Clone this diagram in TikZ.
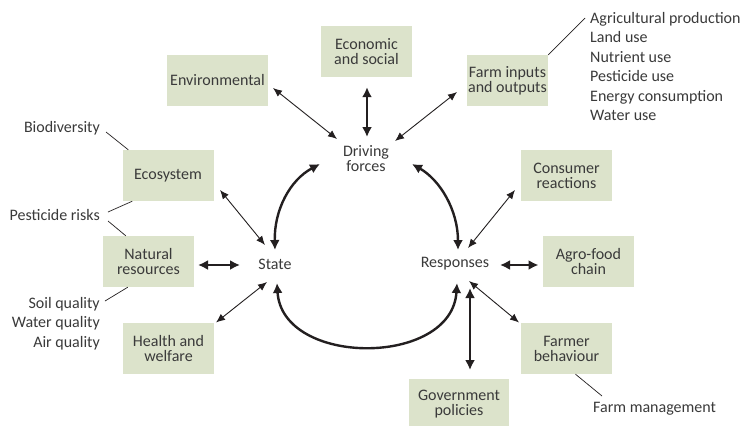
\documentclass[tikz,border=0pt]{standalone}
\usepackage{fontspec}
\setmainfont{Carlito}
\usetikzlibrary{arrows.meta,calc}
\definecolor{boxgreen}{HTML}{DCE3CB}
\definecolor{txt}{HTML}{3A3A3A}
\definecolor{arr}{HTML}{231F20}
\begin{document}
\begin{tikzpicture}[x=1pt,y=-1pt,
  every node/.style={text=txt},
  box/.style={fill=boxgreen, minimum width=91pt, minimum height=51pt, inner sep=0pt, align=center, font=\fontsize{16}{15}\selectfont},
  lbl/.style={inner sep=0pt, align=center, font=\fontsize{16}{15}\selectfont},
  lst/.style={inner sep=0pt, font=\fontsize{16}{19.5}\selectfont},
  thinarr/.style={draw=arr, line width=0.9pt, {Latex[length=9pt,width=7.5pt]}-{Latex[length=9pt,width=7.5pt]}},
  thickarr/.style={draw=arr, line width=2.4pt, {Latex[length=10pt,width=10pt]}-{Latex[length=10pt,width=10pt]}},
  note/.style={draw=arr, line width=0.7pt}]
\fill[white] (0,0) rectangle (753,426);
\useasboundingbox (0,0) rectangle (753,426);

% boxes
\node[box, minimum width=101pt] (env) at (217.5,80.5) {Environmental};
\node[box] (eco) at (366.5,51.5) {Economic\\and social};
\node[box, minimum width=81pt] (farm) at (507.5,80.5) {Farm inputs\\and outputs};
\node[box] (ecosys) at (168,175.5) {Ecosystem};
\node[box] (nat) at (148.5,261.5) {Natural\\resources};
\node[box] (hw) at (168.5,348.5) {Health and\\welfare};
\node[box] (cons) at (566.5,175.5) {Consumer\\reactions};
\node[box] (agro) at (588.5,261.5) {Agro-food\\chain};
\node[box] (farmer) at (566.5,348.5) {Farmer\\behaviour};
\node[box, minimum width=100pt] (gov) at (459,404) {Government\\policies};

% central labels
\node[lbl] (drv) at (366,159) {Driving\\forces};
\node[lbl] (state) at (275,264) {State};
\node[lbl] (resp) at (455,264) {Responses};

% annotations
\node[lst, anchor=east] (bio) at (100,128) {Biodiversity};
\node[lst, anchor=east] (pest) at (100,215) {Pesticide risks};
\node[lst, anchor=north east, align=right] (soil) at (100,297) {Soil quality\\Water quality\\Air quality};
\node[lst, anchor=north west, align=left] (agri) at (590,12) {Agricultural production\\Land use\\Nutrient use\\Pesticide use\\Energy consumption\\Water use};
\node[lst, anchor=west] (fm) at (593,409) {Farm management};

\draw[note] ($(bio.east)+(6,4)$) -- ($(ecosys.north west)+(6,0)$);
\draw[note] ($(pest.east)+(8,-3)$) -- ($(ecosys.south west)+(10,0)$);
\draw[note] ($(pest.east)+(8,6)$) -- ($(nat.north west)+(23,0)$);
\draw[note] ($(soil.north east)+(5,4)$) -- ($(nat.south west)+(25,0)$);
\draw[note] ($(agri.north west)+(-5,6)$) -- ($(farm.north east)+(0,0)$);
\draw[note] ($(farmer.south)+(9,0)$) -- ($(fm.west)+(9,-13)$);

% thin arrows
\draw[thinarr] ($(env.center)+(55.5,7.5)$) -- ($(drv.center)+(-29,-20)$);
\draw[thinarr] ($(farm.center)+(-50.5,11.5)$) -- ($(drv.center)+(29,-18)$);
\draw[thinarr] ($(ecosys.center)+(52,14.5)$) -- ($(state.center)+(-10,-19)$);
\draw[thinarr] ($(hw.center)+(47.5,-26)$) -- ($(state.center)+(-8,18)$);
\draw[thinarr] ($(cons.center)+(-51.5,14.5)$) -- ($(resp.center)+(13,-16)$);
\draw[thinarr] ($(farmer.center)+(-47.5,-26)$) -- ($(resp.center)+(14,17)$);

% thick arrows
\draw[thickarr] ($(eco.south)+(0.5,10)$) -- ($(drv.center)+(1,-22)$);
\draw[thickarr] ($(nat.center)+(49.5,3.5)$) -- ($(state.center)+(-35,1)$);
\draw[thickarr] ($(resp.center)+(45,1)$) -- ($(agro.center)+(-50,3.5)$);
\draw[thickarr] ($(resp.center)+(15,24)$) -- ($(gov.center)+(11,-34)$);

% curved thick arrows
\draw[thickarr] ($(drv.center)+(-46,5)$) .. controls (290,180) and (274,210) .. ($(state.center)+(0,-14)$);
\draw[thickarr] ($(drv.center)+(46,5)$) .. controls (440,180) and (458,210) .. ($(resp.center)+(3,-14)$);
\draw[thickarr] ($(state.center)+(2,19)$) .. controls (282,367) and (452,367) .. ($(resp.center)+(2,19)$);
\end{tikzpicture}
\end{document}
